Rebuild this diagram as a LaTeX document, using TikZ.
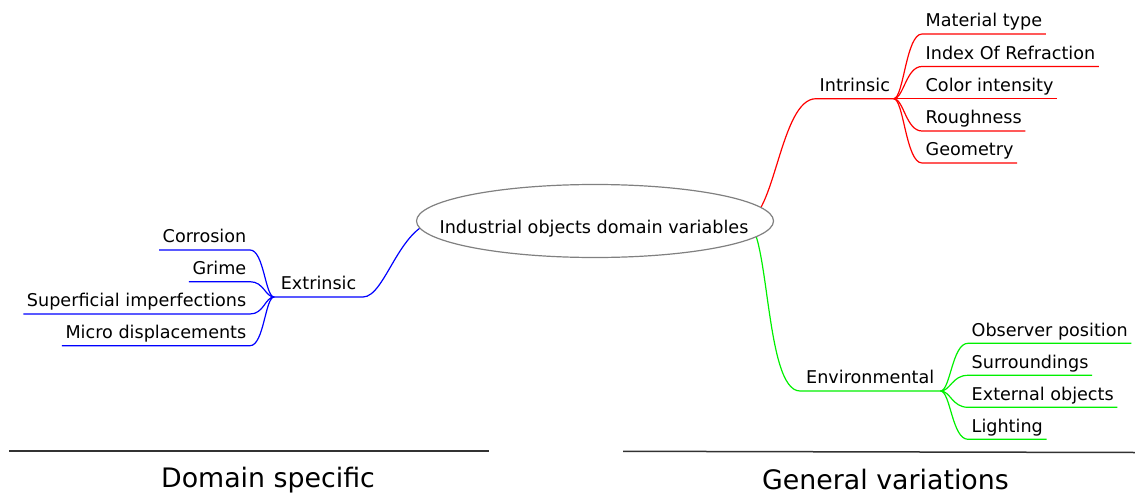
\documentclass[tikz,border=0pt]{standalone}
\usepackage{fontspec}
\setmainfont{DejaVu Sans}
\usetikzlibrary{shapes.geometric,backgrounds,calc}
\definecolor{ringgray}{RGB}{128,128,128}
\definecolor{brred}{RGB}{255,0,0}
\definecolor{brgreen}{RGB}{0,240,0}
\definecolor{brblue}{RGB}{0,0,255}
\definecolor{rulegray}{RGB}{50,50,50}
\tikzset{
  lbl/.style={font=\fontsize{17.6}{20}\selectfont, inner xsep=3.5pt, inner ysep=0pt,
              text height=13pt, text depth=7pt},
  rootnode/.style={ellipse, draw=ringgray, line width=1.2pt, fill=white,
              minimum width=357pt, minimum height=73pt, inner sep=0pt},
  roottext/.style={font=\fontsize{17.6}{20}\selectfont, inner sep=0pt},
  caption/.style={font=\fontsize{26.8}{30}\selectfont, inner sep=0pt, anchor=base},
  edge/.style={line width=1.2pt},
  sepline/.style={draw=rulegray, line width=1.5pt}
}
\begin{document}
\begin{tikzpicture}[x=1pt, y=-1pt]
\useasboundingbox (0,0) rectangle (1135,495);

% central topic: empty ellipse with its caption laid over the centre
\node[rootnode, label={[roottext, anchor=base, yshift=-8pt, xshift=-1pt]center:Industrial objects domain variables}] (root) at (595,221) {};

% intrinsic branch
\node[lbl, anchor=south west] (intr)  at (816,98.7)  {Intrinsic};
\node[lbl, anchor=south west] (mat)   at (922,34)    {Material type};
\node[lbl, anchor=south west] (ior)   at (922,66.5)  {Index Of Refraction};
\node[lbl, anchor=south west] (col)   at (922,98.7)  {Color intensity};
\node[lbl, anchor=south west] (rough) at (922,131)   {Roughness};
\node[lbl, anchor=south west] (geo)   at (922,163)   {Geometry};

% environmental branch
\node[lbl, anchor=south west, inner xsep=6pt] (env) at (800,391) {Environmental};
\node[lbl, anchor=south west] (obs) at (968,343.3) {Observer position};
\node[lbl, anchor=south west] (sur) at (968,375.3) {Surroundings};
\node[lbl, anchor=south west] (exo) at (968,407.3) {External objects};
\node[lbl, anchor=south west] (lig) at (968,439.3) {Lighting};

% extrinsic branch
\node[lbl, anchor=south east, inner xsep=6.5pt] (extr) at (363,297) {Extrinsic};
\node[lbl, anchor=south east] (cor) at (250,250)   {Corrosion};
\node[lbl, anchor=south east] (gri) at (250,281.7) {Grime};
\node[lbl, anchor=south east] (sup) at (250,314)   {Superficial imperfections};
\node[lbl, anchor=south east] (mic) at (250,345.7) {Micro displacements};

\begin{scope}[on background layer]
  \draw[edge, brred] ($(root.center)+(150,0)$) .. controls +(30,0) and +(-36,0) .. (intr.south west) -- (intr.south east);
  \draw[edge, brgreen] ($(root.center)+(150,0)$) .. controls +(25,0) and +(-36,0) .. (env.south west) -- (env.south east);
  \draw[edge, brblue] ($(root.center)+(-155,0)$) .. controls +(-40,0) and +(23,0) .. (extr.south east) -- (extr.south west);
\end{scope}

\foreach \c in {mat,ior,col,rough,geo}
  \draw[edge, brred] (intr.south east) .. controls +(10,0) and +(-16,0) .. (\c.south west) -- (\c.south east);
\foreach \c in {obs,sur,exo,lig}
  \draw[edge, brgreen] (env.south east) .. controls +(10,0) and +(-16,0) .. (\c.south west) -- (\c.south east);
\foreach \c in {cor,gri,sup,mic}
  \draw[edge, brblue] (extr.south west) .. controls +(-9,0) and +(14,0) .. (\c.south east) -- (\c.south west);

% group separators and captions
\coordinate (l1) at (9,451);
\coordinate (l2) at (489,451);
\coordinate (r1) at (623,451.3);
\coordinate (r2) at (1135,452.5);
\draw[sepline] (l1) -- (l2);
\draw[sepline] (r1) -- (r2);
\node[caption] (dom) at (268,487) {Domain specific};
\node[caption] (gen) at (885.5,489) {General variations};
\end{tikzpicture}
\end{document}
